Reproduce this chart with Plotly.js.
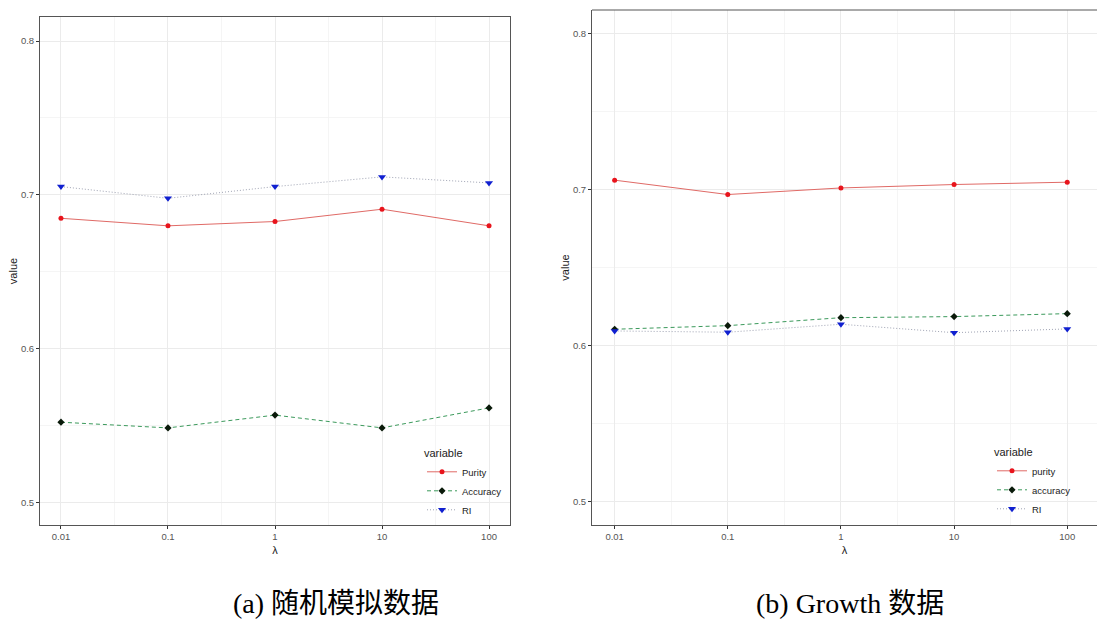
<!DOCTYPE html>
<html>
<head>
<meta charset="utf-8">
<script src="https://cdn.plot.ly/plotly-3.0.1.min.js"></script>
<style>
  html, body { margin: 0; padding: 0; background: #ffffff; }
  #chart { width: 1097px; height: 619px; }
</style>
</head>
<body>
<div id="chart"></div>
<script>
// Regularisation strengths (lambda) shared by both panels
const lambdas = [0.01, 0.1, 1, 10, 100];
const lambdaLabels = ['0.01', '0.1', '1', '10', '100'];

// Panel (a): simulated data
const simPurity   = [0.6848, 0.6799, 0.6827, 0.6907, 0.6799];
const simAccuracy = [0.5523, 0.5486, 0.5569, 0.5486, 0.5616];
const simRI       = [0.7054, 0.6978, 0.7054, 0.7117, 0.7078];

// Panel (b): Growth data
const growthPurity   = [0.7060, 0.6968, 0.7010, 0.7032, 0.7047];
const growthAccuracy = [0.6105, 0.6128, 0.6179, 0.6186, 0.6205];
const growthRI       = [0.6094, 0.6086, 0.6137, 0.6083, 0.6107];

const yTicks = [0.5, 0.6, 0.7, 0.8];
const yTickLabels = ['0.5', '0.6', '0.7', '0.8'];
const yMinor = [0.55, 0.65, 0.75];

const captionA = '(a) 随机模拟数据';
const captionB = '(b) Growth 数据';

// Minor grid lines sit half-way (in log space) between the labelled lambdas
const xMinor = lambdas.slice(1).map((v, i) => Math.sqrt(v * lambdas[i]));

const W = 1097, H = 619;
const px = v => v / W;
const py = v => 1 - v / H;

const styles = {
  purity:   { line: { color: '#e06a66', width: 1, dash: 'solid' },
              marker: { color: '#e8141c', symbol: 'circle', size: 5 } },
  accuracy: { line: { color: '#3c9a5c', width: 1, dash: '4px,3px' },
              marker: { color: '#0a1a0a', symbol: 'diamond', size: 5.5 } },
  ri:       { line: { color: '#a0a4b4', width: 1, dash: '1px,2px' },
              marker: { color: '#1020d0', symbol: 'triangle-down', size: 7 } }
};

function series(name, y, style, xa, ya, legend) {
  return {
    type: 'scatter', mode: 'lines+markers', name: name,
    x: lambdas, y: y, xaxis: xa, yaxis: ya, legend: legend,
    line: style.line, marker: style.marker, hoverinfo: 'x+y+name'
  };
}

const traces = [
  series('Purity',   simPurity,   styles.purity,   'x',  'y',  'legend'),
  series('Accuracy', simAccuracy, styles.accuracy, 'x',  'y',  'legend'),
  series('RI',       simRI,       styles.ri,       'x',  'y',  'legend'),
  series('purity',   growthPurity,   styles.purity,   'x2', 'y2', 'legend2'),
  series('accuracy', growthAccuracy, styles.accuracy, 'x2', 'y2', 'legend2'),
  series('RI',       growthRI,       styles.ri,       'x2', 'y2', 'legend2')
];

const tickFont = { family: 'Liberation Sans, Arial, sans-serif', size: 9.5, color: '#555555' };
const titleFont = { family: 'Liberation Sans, Arial, sans-serif', size: 11, color: '#222222' };
const frameColor = '#555555';

function xAxis(domain, range, anchor, mirror) {
  return {
    type: 'log', domain: domain, range: range, anchor: anchor,
    tickmode: 'array', tickvals: lambdas, ticktext: lambdaLabels,
    tickfont: tickFont, ticks: 'outside', ticklen: 3, tickwidth: 1, tickcolor: '#333333',
    showgrid: true, gridcolor: '#ebebeb', gridwidth: 1,
    minor: { tickmode: 'array', tickvals: xMinor, showgrid: true, gridcolor: '#f2f2f2', gridwidth: 0.8, ticks: '' },
    showline: true, linecolor: frameColor, linewidth: 1, mirror: mirror,
    zeroline: false, fixedrange: true,
    title: { text: 'λ', font: titleFont, standoff: 4 }
  };
}

function yAxis(domain, range, anchor, mirror) {
  return {
    domain: domain, range: range, anchor: anchor,
    tickmode: 'array', tickvals: yTicks, ticktext: yTickLabels,
    tickfont: tickFont, ticks: 'outside', ticklen: 3, tickwidth: 1, tickcolor: '#333333',
    showgrid: true, gridcolor: '#ebebeb', gridwidth: 1,
    minor: { tickmode: 'array', tickvals: yMinor, showgrid: true, gridcolor: '#f2f2f2', gridwidth: 0.8, ticks: '' },
    showline: true, linecolor: frameColor, linewidth: 1, mirror: mirror,
    zeroline: false, fixedrange: true,
    title: { text: 'value', font: titleFont, standoff: 1 }
  };
}

const legendFont = { family: 'Liberation Sans, Arial, sans-serif', size: 9.5, color: '#222222' };
const legendTitleFont = { family: 'Liberation Sans, Arial, sans-serif', size: 11, color: '#222222' };

// White panels behind each legend hide the grid but leave the frame visible
function legendBackdrop(x0, x1, y0, y1) {
  return {
    type: 'rect', xref: 'paper', yref: 'paper',
    x0: px(x0), x1: px(x1), y0: py(y1), y1: py(y0),
    fillcolor: '#ffffff', line: { width: 0 }, layer: 'between'
  };
}

const layout = {
  width: W, height: H,
  margin: { l: 0, r: 0, t: 0, b: 0, pad: 0 },
  paper_bgcolor: '#ffffff', plot_bgcolor: '#ffffff',
  showlegend: true,
  xaxis:  xAxis([px(40), px(510)], [-2.196, 2.196], 'y', true),
  yaxis:  yAxis([py(525), py(17)], [0.4855, 0.8156], 'x', true),
  xaxis2: xAxis([px(592), 1], [-2.2, 2.263], 'y2', false),
  yaxis2: yAxis([py(525), py(10)], [0.4851, 0.815], 'x2', false),
  shapes: [
    legendBackdrop(426, 509, 437, 524),
    legendBackdrop(991, 1097, 437, 524),
    // top edge of the right-hand frame, which runs off the page on the right
    { type: 'line', xref: 'x2 domain', yref: 'y2 domain', x0: 0, x1: 1, y0: 1, y1: 1,
      line: { color: frameColor, width: 1 }, layer: 'above' }
  ],
  legend: {
    x: px(422), y: py(443), xanchor: 'left', yanchor: 'top',
    bgcolor: 'rgba(0,0,0,0)', borderwidth: 0, font: legendFont,
    title: { text: 'variable', font: legendTitleFont },
    itemwidth: 30, tracegroupgap: 0
  },
  legend2: {
    x: px(992), y: py(442), xanchor: 'left', yanchor: 'top',
    bgcolor: 'rgba(0,0,0,0)', borderwidth: 0, font: legendFont,
    title: { text: 'variable', font: legendTitleFont },
    itemwidth: 30, tracegroupgap: 0
  },
  annotations: [
    { text: captionA, xref: 'paper', yref: 'paper', x: px(336), y: py(603),
      xanchor: 'center', yanchor: 'middle', showarrow: false,
      font: { family: 'Liberation Serif, Times New Roman, Noto Sans CJK SC, serif', size: 28, color: '#000000' } },
    { text: captionB, xref: 'paper', yref: 'paper', x: px(850), y: py(603),
      xanchor: 'center', yanchor: 'middle', showarrow: false,
      font: { family: 'Liberation Serif, Times New Roman, Noto Sans CJK SC, serif', size: 28, color: '#000000' } }
  ]
};

Plotly.newPlot('chart', traces, layout, { displayModeBar: false, staticPlot: true });
</script>
</body>
</html>
